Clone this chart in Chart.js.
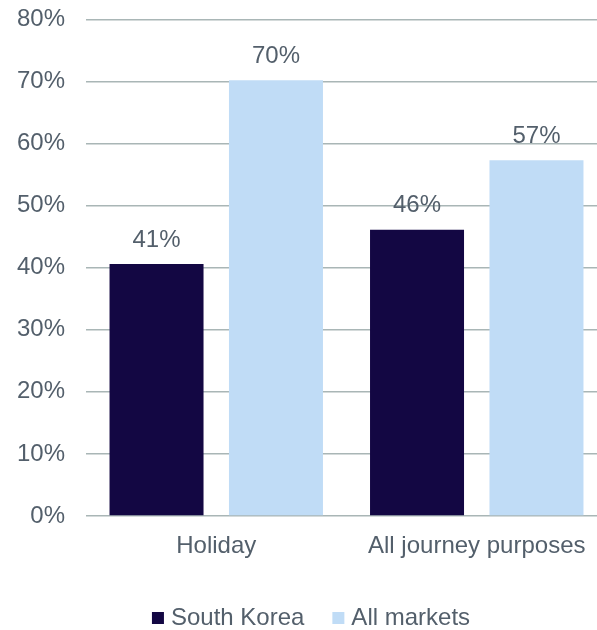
<!DOCTYPE html>
<html>
<head>
<meta charset="utf-8">
<script src="https://cdn.jsdelivr.net/npm/chart.js@4.4.0/dist/chart.umd.min.js"></script>
<style>
  html, body { margin: 0; padding: 0; background: #fff; overflow: hidden; }
  #frame { width: 597px; height: 630px; overflow: hidden; position: relative; }
  #wrap { width: 622px; height: 656px; position: absolute; left: 0; top: -16px; }
</style>
</head>
<body>
<div id="frame"><div id="wrap"><canvas id="purposeChart"></canvas></div></div>
<script>
const categories = ["Holiday", "All journey purposes"];
const southKorea = [40.6, 46.1];
const allMarkets = [70.2, 57.3];
const yTicks = [0, 10, 20, 30, 40, 50, 60, 70, 80];

const textColor = "#535f6b";
const gridColor = "#a9b6b6";
const fontFamily = "'Liberation Sans', Arial, sans-serif";
const fontSize = 24;

// writes the rounded percentage above each bar
const barValueLabels = {
  id: "barValueLabels",
  afterDatasetsDraw(chart) {
    const ctx = chart.ctx;
    ctx.save();
    ctx.font = fontSize + "px " + fontFamily;
    ctx.fillStyle = textColor;
    ctx.textAlign = "center";
    ctx.textBaseline = "middle";
    chart.data.datasets.forEach((ds, i) => {
      chart.getDatasetMeta(i).data.forEach((bar, j) => {
        ctx.fillText(Math.round(ds.data[j]) + "%", bar.x, bar.y - 24);
      });
    });
    ctx.restore();
  }
};

// compact legend along the bottom: small square, short gap, label
const bottomLegend = {
  id: "bottomLegend",
  afterDraw(chart) {
    const ctx = chart.ctx;
    const box = 12, gap = 7, spacing = 28;
    const y = chart.height - 22;
    ctx.save();
    ctx.font = fontSize + "px " + fontFamily;
    ctx.textBaseline = "middle";
    const items = chart.data.datasets.map(ds => ({
      text: ds.label,
      color: ds.backgroundColor,
      width: box + gap + ctx.measureText(ds.label).width
    }));
    const total = items.reduce((s, it) => s + it.width, 0) + spacing * (items.length - 1);
    let x = chart.width / 2 - total / 2;
    items.forEach(it => {
      ctx.fillStyle = it.color;
      ctx.fillRect(x, y - box / 2, box, box);
      ctx.fillStyle = textColor;
      ctx.fillText(it.text, x + box + gap, y);
      x += it.width + spacing;
    });
    ctx.restore();
  }
};

new Chart(document.getElementById("purposeChart"), {
  type: "bar",
  data: {
    labels: categories,
    datasets: [
      {
        label: "South Korea",
        data: southKorea,
        backgroundColor: "#130743",
        categoryPercentage: 0.917,
        barPercentage: 0.787
      },
      {
        label: "All markets",
        data: allMarkets,
        backgroundColor: "#c0dcf6",
        categoryPercentage: 0.917,
        barPercentage: 0.787
      }
    ]
  },
  options: {
    responsive: true,
    maintainAspectRatio: false,
    animation: false,
    layout: {
      padding: { top: 6, right: 15, bottom: 60, left: 0 }
    },
    plugins: {
      legend: { display: false },
      tooltip: { enabled: false }
    },
    scales: {
      x: {
        grid: { display: false },
        border: { display: false },
        ticks: {
          color: textColor,
          font: { family: fontFamily, size: fontSize },
          padding: 8
        },
        afterFit: scale => { scale.height = 64; }
      },
      y: {
        min: 0,
        max: 80,
        afterBuildTicks: scale => {
          scale.ticks = yTicks.map(v => ({ value: v }));
        },
        grid: { color: gridColor, lineWidth: 1.5, drawTicks: false },
        border: { display: false },
        ticks: {
          color: textColor,
          font: { family: fontFamily, size: fontSize },
          padding: 21,
          callback: v => v + "%"
        },
        afterFit: scale => { scale.width = 86; }
      }
    }
  },
  plugins: [barValueLabels, bottomLegend]
});
</script>
</body>
</html>
